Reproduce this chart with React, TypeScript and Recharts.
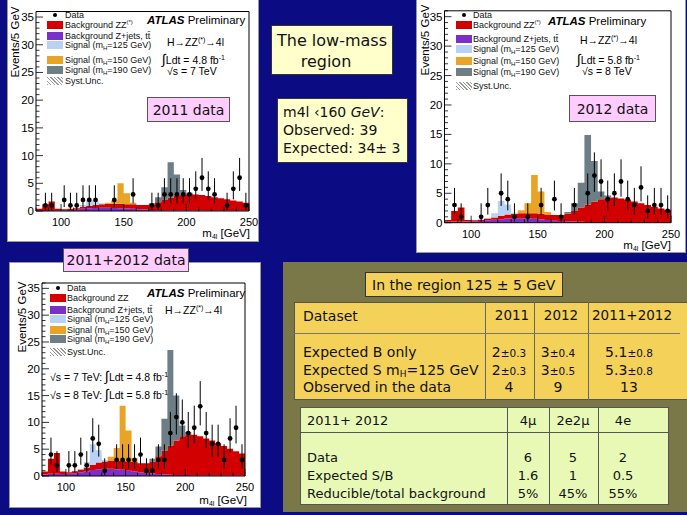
import React from 'react';
import { ComposedChart, Area, Scatter, XAxis, YAxis, ErrorBar, ReferenceLine } from 'recharts';

// ---------- binning / axes ----------
const BIN_LOW = [80, 85, 90, 95, 100, 105, 110, 115, 120, 125, 130, 135, 140, 145, 150, 155, 160, 165, 170, 175, 180, 185, 190, 195, 200, 205, 210, 215, 220, 225, 230, 235, 240, 245];
const BIN_WIDTH = 5;
const X_MIN = 80;
const X_MAX = 250;
const Y_MAX = 36;
const X_TICKS = [80, 90, 100, 110, 120, 130, 140, 150, 160, 170, 180, 190, 200, 210, 220, 230, 240, 250];
const X_LABELS = [100, 150, 200, 250];
const Y_TICKS = [0, 1, 2, 3, 4, 5, 6, 7, 8, 9, 10, 11, 12, 13, 14, 15, 16, 17, 18, 19, 20, 21, 22, 23, 24, 25, 26, 27, 28, 29, 30, 31, 32, 33, 34, 35, 36];
const Y_LABELS = [0, 5, 10, 15, 20, 25, 30, 35];

// ---------- 2011 ----------
const ZJETS_2011 = [0.15, 0.2, 0.2, 0.15, 0.15, 0.2, 0.3, 0.4, 0.5, 0.55, 0.6, 0.6, 0.55, 0.5, 0.45, 0.4, 0.3, 0.25, 0.2, 0.15, 0.12, 0.1, 0.1, 0.1, 0.08, 0.07, 0.07, 0.06, 0.06, 0.06, 0.06, 0.05, 0.05, 0.05];
const ZZ_2011 = [0.25, 1.0, 1.5, 0.25, 0.15, 0.2, 0.2, 0.3, 0.4, 0.55, 0.6, 0.7, 0.75, 0.8, 0.75, 0.8, 0.8, 0.85, 1.0, 1.45, 1.88, 2.3, 2.6, 2.9, 3.02, 2.93, 2.83, 2.64, 2.44, 2.24, 2.04, 1.85, 1.65, 1.45];
const SIG125_2011 = [0, 0, 0, 0, 0, 0, 0, 0.4, 1.1, 0.8, 0.2, 0, 0, 0, 0, 0, 0, 0, 0, 0, 0, 0, 0, 0, 0, 0, 0, 0, 0, 0, 0, 0, 0, 0];
const SIG150_2011 = [0, 0, 0, 0, 0, 0, 0, 0, 0, 0, 0, 0.2, 0.6, 3.7, 2.0, 0.3, 0, 0, 0, 0, 0, 0, 0, 0, 0, 0, 0, 0, 0, 0, 0, 0, 0, 0];
const SIG190_2011 = [0, 0, 0, 0, 0, 0, 0, 0, 0, 0, 0, 0, 0, 0, 0, 0, 0, 0, 0.2, 0.9, 2.3, 6.4, 3.9, 0.8, 0.2, 0, 0, 0, 0, 0, 0, 0, 0, 0];
const DATA_BIN_2011 = [85, 90, 100, 105, 110, 115, 120, 125, 140, 155, 170, 175, 180, 185, 190, 195, 200, 205, 210, 215, 220, 230, 235, 240, 245];
const DATA_N_2011 = [1, 1, 2, 1, 1, 2, 2, 2, 2, 3, 1, 1, 3, 3, 3, 3, 3, 4, 6, 4, 3, 1, 4, 6, 1];

// ---------- 2012 ----------
const ZJETS_2012 = [0.15, 0.2, 0.2, 0.2, 0.25, 0.3, 0.4, 0.5, 0.6, 0.7, 0.75, 0.75, 0.7, 0.65, 0.55, 0.45, 0.35, 0.3, 0.25, 0.2, 0.15, 0.12, 0.1, 0.1, 0.1, 0.08, 0.08, 0.07, 0.07, 0.06, 0.06, 0.06, 0.05, 0.05];
const ZZ_2012 = [0.3, 1.8, 2.4, 0.25, 0.15, 0.2, 0.3, 0.4, 0.6, 0.7, 0.75, 0.85, 0.9, 0.95, 0.95, 0.95, 0.95, 1.0, 1.25, 1.8, 2.45, 2.98, 3.5, 3.9, 4.2, 4.22, 4.02, 3.83, 3.53, 3.24, 2.94, 2.64, 2.35, 2.15];
const SIG125_2012 = [0, 0, 0, 0, 0, 0, 0.1, 0.7, 2.5, 1.7, 0.2, 0, 0, 0, 0, 0, 0, 0, 0, 0, 0, 0, 0, 0, 0, 0, 0, 0, 0, 0, 0, 0, 0, 0];
const SIG150_2012 = [0, 0, 0, 0, 0, 0, 0, 0, 0, 0, 0, 0.5, 1.7, 6.5, 3.8, 0.4, 0, 0, 0, 0, 0, 0, 0, 0, 0, 0, 0, 0, 0, 0, 0, 0, 0, 0];
const SIG190_2012 = [0, 0, 0, 0, 0, 0, 0, 0, 0, 0, 0, 0, 0, 0, 0, 0, 0, 0, 0.3, 1.3, 4.2, 11.8, 6.9, 1.3, 0.3, 0, 0, 0, 0, 0, 0, 0, 0, 0];
const DATA_BIN_2012 = [85, 90, 105, 110, 120, 125, 130, 140, 150, 160, 165, 175, 185, 190, 195, 200, 205, 210, 215, 220, 225, 230, 235, 240, 245];
const DATA_N_2012 = [3, 1, 1, 3, 5, 4, 1, 1, 3, 4, 1, 3, 5, 8, 7, 4, 5, 7, 4, 3, 6, 2, 3, 3, 2];

// ---------- 2011+2012 ----------
const ZJETS_ALL = [0.3, 0.4, 0.4, 0.35, 0.4, 0.5, 0.7, 0.9, 1.1, 1.25, 1.35, 1.35, 1.25, 1.15, 1.0, 0.85, 0.65, 0.55, 0.45, 0.35, 0.27, 0.22, 0.2, 0.2, 0.18, 0.15, 0.15, 0.13, 0.13, 0.12, 0.12, 0.11, 0.1, 0.1];
const ZZ_ALL = [0.55, 2.8, 3.9, 0.5, 0.3, 0.4, 0.5, 0.7, 1.0, 1.25, 1.35, 1.55, 1.65, 1.75, 1.7, 1.75, 1.75, 1.85, 2.25, 3.35, 4.43, 5.48, 6.4, 7.2, 7.62, 7.55, 7.25, 6.87, 6.47, 5.98, 5.48, 4.99, 4.5, 4.1];
const SIG125_ALL = [0, 0, 0, 0, 0, 0, 0.1, 1.0, 3.8, 2.3, 0.3, 0, 0, 0, 0, 0, 0, 0, 0, 0, 0, 0, 0, 0, 0, 0, 0, 0, 0, 0, 0, 0, 0, 0];
const SIG150_ALL = [0, 0, 0, 0, 0, 0, 0, 0, 0, 0, 0, 0.7, 2.3, 10.2, 5.8, 0.7, 0, 0, 0, 0, 0, 0, 0, 0, 0, 0, 0, 0, 0, 0, 0, 0, 0, 0];
const SIG190_ALL = [0, 0, 0, 0, 0, 0, 0, 0, 0, 0, 0, 0, 0, 0, 0, 0, 0, 0, 0.5, 1.8, 6.0, 17.8, 8.4, 2.0, 0.4, 0, 0, 0, 0, 0, 0, 0, 0, 0];
const DATA_BIN_ALL = [85, 90, 100, 105, 110, 115, 120, 125, 130, 140, 145, 150, 155, 160, 165, 170, 175, 180, 185, 190, 195, 200, 205, 210, 215, 220, 225, 230, 235, 240, 245];
const DATA_N_ALL = [4, 2, 2, 2, 4, 2, 7, 6, 1, 3, 3, 3, 3, 4, 1, 1, 3, 3, 8, 11, 10, 8, 9, 13, 8, 6, 6, 3, 7, 9, 3];

// Poisson 68% intervals (low, high) per observed count
const POISSON_ERR: Record<number, [number, number]> = {
  1: [0.83, 2.3], 2: [1.29, 2.64], 3: [1.63, 2.92], 4: [1.91, 3.16], 5: [2.16, 3.38], 6: [2.38, 3.58],
  7: [2.58, 3.77], 8: [2.77, 3.95], 9: [2.94, 4.11], 10: [3.11, 4.27], 11: [3.27, 4.42], 13: [3.56, 4.7],
};

// ---------- tables ----------
const T1_COLS = ['2011', '2012', '2011+2012'];
const T1_ROWS = ['Expected B only', 'Expected S m_H=125 GeV', 'Observed in the data'];
const T1_VALUES: [string, string][][] = [
  [['2', '±0.3'], ['3', '±0.4'], ['5.1', '±0.8']],
  [['2', '±0.3'], ['3', '±0.5'], ['5.3', '±0.8']],
  [['4', ''], ['9', ''], ['13', '']],
];
const T2_COLS = ['4μ', '2e2μ', '4e'];
const T2_ROWS = ['Data', 'Expected S/B', 'Reducible/total background'];
const T2_VALUES = [['6', '5', '2'], ['1.6', '1', '0.5'], ['5%', '45%', '55%']];

// ---------- colours ----------
const BLUE_BG = '#0b0b84';
const RED = '#d20000';
const PURPLE = '#7a2fc8';
const LIGHTBLUE = '#b7d2f2';
const ORANGE = '#e9a427';
const GRAY = '#6e7e86';
const OLIVE = '#7a7749';
const YELLOW = '#f4d25a';
const GREEN = '#e8f9b6';
const PINK = '#ffccff';
const CREAM = '#ffffcc';

const SERIES = [
  { key: 'zjets', color: PURPLE },
  { key: 'zz', color: RED },
  { key: 's125', color: LIGHTBLUE },
  { key: 's150', color: ORANGE },
  { key: 's190', color: GRAY },
];

const ROOT_FONT = "'Liberation Sans', Arial, Helvetica, sans-serif";
const COMIC_FONT = "'Comic Sans MS', 'DejaVu Sans', sans-serif";

function buildRows(zjets: number[], zz: number[], s125: number[], s150: number[], s190: number[]) {
  const rows = BIN_LOW.map((x, i) => ({ x, zjets: zjets[i], zz: zz[i], s125: s125[i], s150: s150[i], s190: s190[i] }));
  const last = rows[rows.length - 1];
  rows.push({ ...last, x: X_MAX });
  return rows;
}

function buildPoints(bins: number[], counts: number[]) {
  return bins.map((b, i) => ({ x: b + BIN_WIDTH / 2, y: counts[i], err: POISSON_ERR[counts[i]] }));
}

const XTick = (p: any) => {
  const { x, y, payload } = p;
  const major = X_LABELS.includes(payload.value);
  return (
    <g>
      <line x1={x} x2={x} y1={y} y2={y - (major ? 7 : 3.5)} stroke="#000" strokeWidth={0.8} />
      {major && (
        <text x={x} y={y + 11} textAnchor="middle" dominantBaseline="central" fontSize={11} fontFamily={ROOT_FONT} fill="#000">
          {payload.value}
        </text>
      )}
    </g>
  );
};

const YTick = (p: any) => {
  const { x, y, payload } = p;
  const major = Y_LABELS.includes(payload.value);
  return (
    <g>
      <line x1={x} x2={x + (major ? 7 : 3.5)} y1={y} y2={y} stroke="#000" strokeWidth={0.8} />
      {major && (
        <text x={x - 2} y={y} textAnchor="end" dominantBaseline="central" fontSize={11.5} fontFamily={ROOT_FONT} fill="#000">
          {payload.value}
        </text>
      )}
    </g>
  );
};

const DataDot = (p: any) => <circle cx={p.cx} cy={p.cy} r={2.4} fill="#000" />;

type Box = { x: number; y: number; w: number; h: number };
type Margin = { left: number; right: number; top: number; bottom: number };

function HistChart({ box, margin, rows, points }: { box: Box; margin: Margin; rows: any[]; points: any[] }) {
  return (
    <ComposedChart width={box.w} height={box.h} data={rows} margin={{ left: 0, bottom: 0, top: margin.top, right: margin.right }}>
      <XAxis dataKey="x" type="number" domain={[X_MIN, X_MAX]} ticks={X_TICKS} interval={0} tickSize={0} tickMargin={0}
        tick={(p: any) => <XTick {...p} />} tickLine={false} height={margin.bottom} axisLine={{ stroke: '#000', strokeWidth: 1 }} allowDataOverflow />
      <YAxis type="number" domain={[0, Y_MAX]} ticks={Y_TICKS} interval={0} tickSize={0} tickMargin={0}
        tick={(p: any) => <YTick {...p} />} tickLine={false} width={margin.left} axisLine={{ stroke: '#000', strokeWidth: 1 }} allowDataOverflow />
      {SERIES.map((s) => (
        <Area key={s.key} type="stepAfter" dataKey={s.key} stackId="h" fill={s.color} fillOpacity={1} stroke="none"
          dot={false} activeDot={false} isAnimationActive={false} />
      ))}
      <ReferenceLine y={Y_MAX} stroke="#000" strokeWidth={1} />
      <ReferenceLine x={X_MAX} stroke="#000" strokeWidth={1} />
      <Scatter data={points} dataKey="y" shape={DataDot} isAnimationActive={false}>
        <ErrorBar dataKey="err" direction="y" width={0} stroke="#000" strokeWidth={1} />
      </Scatter>
    </ComposedChart>
  );
}

const abs = (x: number, y: number, extra: React.CSSProperties = {}): React.CSSProperties => ({
  position: 'absolute', left: x, top: y, whiteSpace: 'nowrap', ...extra,
});

const Sub = ({ children, size = 6 }: { children: React.ReactNode; size?: number }) => (
  <span style={{ fontSize: size, position: 'relative', top: 2, lineHeight: 0 }}>{children}</span>
);
const Sup = ({ children, size = 6 }: { children: React.ReactNode; size?: number }) => (
  <span style={{ fontSize: size, position: 'relative', top: -4, lineHeight: 0 }}>{children}</span>
);

function Legend({ boxX, textX, ys, zzStar }: { boxX: number; textX: number; ys: number[]; zzStar: boolean }) {
  const items = [
    { kind: 'dot', label: <>Data</> },
    { kind: 'box', color: RED, label: zzStar ? <>Background ZZ<Sup>(*)</Sup></> : <>Background ZZ</> },
    { kind: 'box', color: PURPLE, label: <>Background Z+jets, tt̄</> },
    { kind: 'box', color: LIGHTBLUE, label: <>Signal (m<Sub>H</Sub>=125 GeV)</> },
    { kind: 'box', color: ORANGE, label: <>Signal (m<Sub>H</Sub>=150 GeV)</> },
    { kind: 'box', color: GRAY, label: <>Signal (m<Sub>H</Sub>=190 GeV)</> },
    { kind: 'hatch', label: <>Syst.Unc.</> },
  ];
  return (
    <>
      {items.map((it, i) => (
        <React.Fragment key={i}>
          {it.kind === 'dot' && <div style={abs(boxX + 6, ys[i] - 2, { width: 4, height: 4, borderRadius: 2, background: '#000' })} />}
          {it.kind === 'box' && <div style={abs(boxX, ys[i] - 4, { width: 16, height: 8, background: it.color })} />}
          {it.kind === 'hatch' && (
            <div style={abs(boxX, ys[i] - 4, { width: 16, height: 8, background: 'repeating-linear-gradient(45deg, #999 0 1px, #fff 1px 2.5px)' })} />
          )}
          <div style={abs(textX, ys[i], { transform: 'translateY(-50%)', fontSize: 9, fontFamily: ROOT_FONT, lineHeight: '9px', color: '#111' })}>
            {it.label}
          </div>
        </React.Fragment>
      ))}
    </>
  );
}

function Atlas({ x, y }: { x: number; y: number }) {
  return (
    <div style={abs(x, y, { transform: 'translateY(-50%)', fontSize: 11.5, fontFamily: ROOT_FONT, color: '#000', lineHeight: '12px' })}>
      <b><i>ATLAS</i></b> Preliminary
    </div>
  );
}

function RootText({ x, y, size = 10.5, children }: { x: number; y: number; size?: number; children: React.ReactNode }) {
  return (
    <div style={abs(x, y, { transform: 'translateY(-50%)', fontSize: size, fontFamily: ROOT_FONT, color: '#000', lineHeight: '11px' })}>
      {children}
    </div>
  );
}

const Hzz = () => <>H→ZZ<Sup size={7}>(*)</Sup>→4l</>;
const Integral = ({ lumi }: { lumi: string }) => (
  <><span style={{ fontSize: 14, lineHeight: 0 }}>∫</span>Ldt = {lumi} fb<Sup size={7}>-1</Sup></>
);

function PinkLabel({ x, y, w, h, text }: { x: number; y: number; w: number; h: number; text: string }) {
  return (
    <div style={abs(x, y, {
      width: w, height: h, boxSizing: 'border-box', background: PINK, border: '1px solid #555',
      display: 'flex', alignItems: 'center', justifyContent: 'center', fontFamily: COMIC_FONT, fontSize: 14, color: '#111',
    })}>{text}</div>
  );
}

function YTitle({ x, y }: { x: number; y: number }) {
  return (
    <div style={abs(x, y, { transform: 'translate(-50%,-50%) rotate(-90deg)', fontSize: 11.5, fontFamily: ROOT_FONT, color: '#000' })}>
      Events/5 GeV
    </div>
  );
}

function XTitle({ right, y }: { right: number; y: number }) {
  return (
    <div style={{ position: 'absolute', right, top: y, transform: 'translateY(-50%)', fontSize: 11.5, fontFamily: ROOT_FONT, color: '#000', whiteSpace: 'nowrap', lineHeight: '12px' }}>
      m<Sub size={7}>4l</Sub> [GeV]
    </div>
  );
}

function Panel({ box, children }: { box: Box; children: React.ReactNode }) {
  return (
    <div style={{ position: 'absolute', left: box.x, top: box.y, width: box.w, height: box.h, background: '#fff', overflow: 'hidden', boxShadow: '0 0 0 1px #999' }}>
      {children}
    </div>
  );
}

function Txt({ x, y, size, center, children, font = COMIC_FONT }: { x: number; y: number; size: number; center?: boolean; children: React.ReactNode; font?: string }) {
  return (
    <div style={abs(x, y, { transform: center ? 'translate(-50%,-50%)' : 'translateY(-50%)', fontSize: size, fontFamily: font, color: '#111', lineHeight: 1 })}>
      {children}
    </div>
  );
}

export default function App() {
  const rows2011 = buildRows(ZJETS_2011, ZZ_2011, SIG125_2011, SIG150_2011, SIG190_2011);
  const rows2012 = buildRows(ZJETS_2012, ZZ_2012, SIG125_2012, SIG150_2012, SIG190_2012);
  const rowsAll = buildRows(ZJETS_ALL, ZZ_ALL, SIG125_ALL, SIG150_ALL, SIG190_ALL);
  const pts2011 = buildPoints(DATA_BIN_2011, DATA_N_2011);
  const pts2012 = buildPoints(DATA_BIN_2012, DATA_N_2012);
  const ptsAll = buildPoints(DATA_BIN_ALL, DATA_N_ALL);

  const P1: Box = { x: 8, y: 0, w: 250, h: 241 };
  const P2: Box = { x: 417, y: 0, w: 268, h: 252 };
  const P3: Box = { x: 10, y: 263, w: 250, h: 244 };

  const t1ColX = [512, 561, 632];
  const t1RowY = [352, 370, 387];
  const t2ColX = [528, 573, 623];
  const t2RowY = [457, 475, 493];

  return (
    <div style={{ position: 'absolute', left: 0, top: 0, width: 687, height: 515, background: BLUE_BG, overflow: 'hidden' }}>
      {/* 2011 panel */}
      <Panel box={P1}>
        <HistChart box={P1} margin={{ left: 28, right: 9, top: 11.5, bottom: 30 }} rows={rows2011} points={pts2011} />
        <YTitle x={7} y={41.5} />
        <XTitle right={8} y={233} />
        <Legend boxX={39} textX={57} ys={[15, 25, 36, 45, 60, 70, 81]} zzStar />
        <Atlas x={139} y={20} />
        <RootText x={159} y={42}><Hzz /></RootText>
        <RootText x={154} y={60}><Integral lumi="4.8" /></RootText>
        <RootText x={159} y={71}>√s = 7 TeV</RootText>
        <PinkLabel x={139} y={97} w={83} h={25} text="2011 data" />
      </Panel>

      {/* 2012 panel */}
      <Panel box={P2}>
        <HistChart box={P2} margin={{ left: 27.5, right: 14, top: 10.8, bottom: 29.3 }} rows={rows2012} points={pts2012} />
        <YTitle x={8} y={40} />
        <XTitle right={14} y={245} />
        <Legend boxX={39} textX={56} ys={[15, 25, 39, 49, 61, 72, 86]} zzStar />
        <Atlas x={131} y={21} />
        <RootText x={163} y={40}><Hzz /></RootText>
        <RootText x={160} y={60}><Integral lumi="5.8" /></RootText>
        <RootText x={165} y={71}>√s = 8 TeV</RootText>
        <PinkLabel x={152} y={95} w={87} h={27} text="2012 data" />
      </Panel>

      {/* combined panel */}
      <Panel box={P3}>
        <HistChart box={P3} margin={{ left: 32, right: 15, top: 20, bottom: 31 }} rows={rowsAll} points={ptsAll} />
        <YTitle x={12} y={53.5} />
        <XTitle right={13} y={237} />
        <Legend boxX={40} textX={57} ys={[25, 35, 47, 56, 67, 76, 89]} zzStar={false} />
        <Atlas x={137} y={30} />
        <RootText x={155} y={47}><Hzz /></RootText>
        <RootText x={40} y={114}>√s = 7 TeV: <Integral lumi="4.8" /></RootText>
        <RootText x={40} y={132}>√s = 8 TeV: <Integral lumi="5.8" /></RootText>
      </Panel>
      <PinkLabel x={63} y={248} w={126} h={24} text="2011+2012 data" />

      {/* middle text boxes */}
      <div style={abs(271, 25, { width: 122, height: 50, boxSizing: 'border-box', background: CREAM, border: '1px solid #333' })} />
      <Txt x={332} y={41} size={16} center>The low-mass</Txt>
      <Txt x={326} y={62} size={16} center>region</Txt>
      <div style={abs(277, 98, { width: 131, height: 65, boxSizing: 'border-box', background: CREAM, border: '1px solid #333' })} />
      <Txt x={283} y={112} size={14}>m4l ‹160 <i>GeV</i>:</Txt>
      <Txt x={283} y={130} size={14}>Observed: 39</Txt>
      <Txt x={283} y={148} size={14}>Expected: 34± 3</Txt>

      {/* table area */}
      <div style={abs(283, 262, { width: 404, height: 250, background: OLIVE })} />
      <div style={abs(365, 272, { width: 198, height: 25, boxSizing: 'border-box', background: YELLOW, border: '1px solid #333' })} />
      <Txt x={372} y={285} size={14}>In the region 125 ± 5 GeV</Txt>

      <div style={abs(294, 302, { width: 400, height: 98, boxSizing: 'border-box', background: YELLOW, border: '1px solid #555' })} />
      {[485, 534, 588].map((x) => <div key={x} style={abs(x, 302, { width: 1, height: 98, background: '#666' })} />)}
      <div style={abs(294, 333, { width: 386, height: 1, background: '#777' })} />
      <Txt x={303} y={316} size={14}>Dataset</Txt>
      {T1_COLS.map((c, i) => <Txt key={c} x={t1ColX[i]} y={316} size={13.5} center>{c}</Txt>)}
      {T1_ROWS.map((r, i) => (
        <Txt key={r} x={303} y={t1RowY[i]} size={14}>
          {r.includes('m_H') ? <>Expected S m<Sub size={9}>H</Sub>=125 GeV</> : r}
        </Txt>
      ))}
      {T1_VALUES.map((row, ri) => row.map((v, ci) => (
        <Txt key={`${ri}-${ci}`} x={t1ColX[ci] - 3} y={t1RowY[ri]} size={14} center>
          {v[0]}<span style={{ fontSize: 10.5 }}>{v[1]}</span>
        </Txt>
      )))}

      <div style={abs(300, 407, { width: 369, height: 98, boxSizing: 'border-box', background: GREEN, border: '1px solid #555' })} />
      {[507, 549, 598].map((x) => <div key={x} style={abs(x, 407, { width: 1, height: 98, background: '#555' })} />)}
      <div style={abs(300, 432, { width: 369, height: 1, background: '#555' })} />
      <Txt x={307} y={420} size={13}>2011+ 2012</Txt>
      {T2_COLS.map((c, i) => <Txt key={c} x={t2ColX[i]} y={420} size={13} center>{c}</Txt>)}
      {T2_ROWS.map((r, i) => <Txt key={r} x={307} y={t2RowY[i]} size={13}>{r}</Txt>)}
      {T2_VALUES.map((row, ri) => row.map((v, ci) => (
        <Txt key={`${ri}-${ci}`} x={t2ColX[ci]} y={t2RowY[ri]} size={13} center>{v}</Txt>
      )))}
    </div>
  );
}
